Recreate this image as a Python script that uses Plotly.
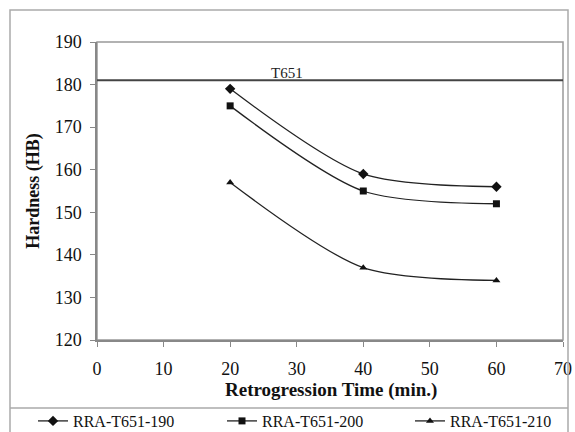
import plotly.graph_objects as go

times = [20, 40, 60]
h190 = [179, 159, 156]
h200 = [175, 155, 152]
h210 = [157, 137, 134]
t651_value = 181
names = ["RRA-T651-190", "RRA-T651-200", "RRA-T651-210"]
symbols = ["diamond", "square", "triangle-up"]
legend_ids = ["legend", "legend2", "legend3"]
legend_px = [33, 222, 410]  # left pixel of each legend entry

SERIF = "Liberation Serif"
PL, PR, PT, PB = 97, 563, 42, 340  # plot area pixels
PW, PH = PR - PL, PB - PT

fig = go.Figure()
for name, vals, sym, lg in zip(names, [h190, h200, h210], symbols, legend_ids):
    fig.add_trace(go.Scatter(
        x=times, y=vals, name=name, mode="lines+markers", legend=lg,
        line=dict(color="#222222", width=1.3, shape="spline", smoothing=0.8),
        marker=dict(symbol=sym, size=7 if sym != "diamond" else 8, color="#111111"),
    ))

fig.add_trace(go.Scatter(
    x=[0, 70], y=[t651_value, t651_value], mode="lines",
    line=dict(color="#444444", width=2), showlegend=False, hoverinfo="skip"))

fig.add_annotation(x=28.6, y=t651_value, text="T651", showarrow=False,
                   yanchor="bottom", yshift=-3,
                   font=dict(family=SERIF, size=15, color="#222"))

fig.add_annotation(xref="paper", yref="paper", x=(331 - PL) / PW, y=(PB - 390) / PH,
                   text="<b>Retrogression Time (min.)</b>", showarrow=False,
                   xanchor="center", yanchor="middle",
                   font=dict(family=SERIF, size=19, color="#111"))

axis_common = dict(
    showgrid=False, zeroline=False, ticks="outside", ticklen=5,
    tickcolor="#888", linecolor="#888", linewidth=1.5,
    tickfont=dict(family=SERIF, size=18, color="#111"),
    mirror=False,
)
fig.update_xaxes(range=[0, 70], dtick=10, ticklabelstandoff=7, **axis_common)
fig.update_yaxes(range=[120, 190], dtick=10, ticklabelstandoff=5, **axis_common,
                 title=dict(text="<b>Hardness (HB)</b>", standoff=10,
                            font=dict(family=SERIF, size=18, color="#111")))

# plot area border (top/right)
fig.add_shape(type="rect", xref="paper", yref="paper", x0=0, y0=0, x1=1, y1=1,
              line=dict(color="#999", width=1.5), layer="below")
# outer frame and legend separator
fig.add_shape(type="rect", xref="paper", yref="paper",
              x0=(10 - PL) / PW, y0=(PB - 440) / PH,
              x1=(568 - PL) / PW, y1=(PB - 10) / PH,
              line=dict(color="#aaa", width=1.5))
fig.add_shape(type="line", xref="paper", yref="paper",
              x0=(10 - PL) / PW, x1=(568 - PL) / PW,
              y0=(PB - 408) / PH, y1=(PB - 408) / PH,
              line=dict(color="#aaa", width=1.5))

legend_style = dict(orientation="h", xanchor="left", yanchor="middle",
                    y=(PB - 421) / PH,
                    font=dict(family=SERIF, size=16, color="#111"),
                    itemwidth=30, bgcolor="rgba(0,0,0,0)")
layout_legends = {}
for lg, px in zip(legend_ids, legend_px):
    layout_legends[lg] = dict(x=(px - PL) / PW, **legend_style)

fig.update_layout(
    width=575, height=432,
    margin=dict(l=PL, r=575 - PR, t=PT, b=432 - PB, autoexpand=False),
    paper_bgcolor="white", plot_bgcolor="white",
    font=dict(family=SERIF, color="#111"),
    **layout_legends,
)

fig.write_html("out.html")
